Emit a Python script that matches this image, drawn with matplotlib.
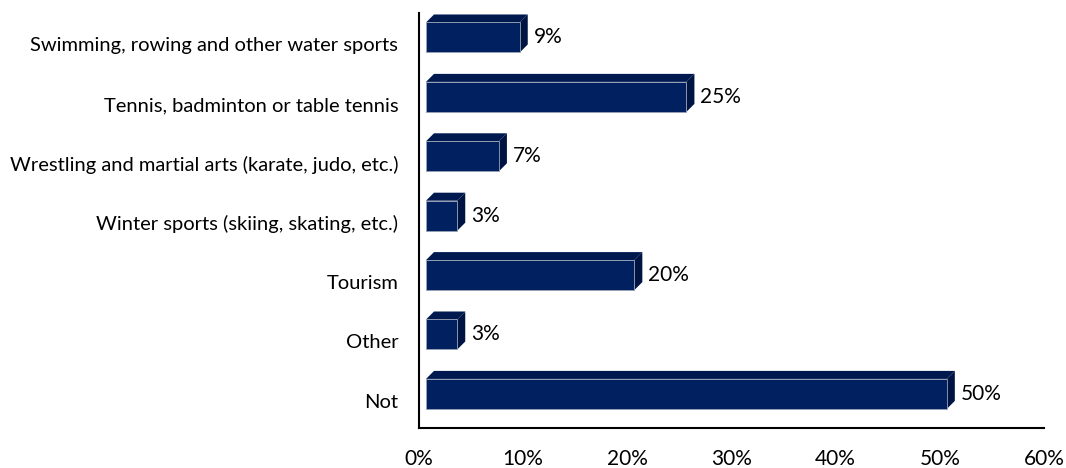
import matplotlib
matplotlib.use("Agg")
import matplotlib.pyplot as plt
from matplotlib.patches import Polygon, Rectangle
from matplotlib.transforms import ScaledTranslation

plt.rcParams['font.family'] = ['Lato', 'DejaVu Sans']

categories = [
    "Swimming, rowing and other water sports",
    "Tennis, badminton or table tennis",
    "Wrestling and martial arts (karate, judo, etc.)",
    "Winter sports (skiing, skating, etc.)",
    "Tourism",
    "Other",
    "Not",
]
values = [9, 25, 7, 3, 20, 3, 50]
x_ticks = [0, 10, 20, 30, 40, 50, 60]
x_tick_labels = ["0%", "10%", "20%", "30%", "40%", "50%", "60%"]

W, H, DPI = 1066, 468, 100
fig = plt.figure(figsize=(W / DPI, H / DPI), dpi=DPI)
left, right, top, bottom = 419, 1044, 13, 428
ax = fig.add_axes([left / W, 1 - bottom / H, (right - left) / W, (bottom - top) / H])

ax.set_xlim(0, 60)
ax.set_ylim(6.574, -0.412)

# pixel -> data unit conversions for the 3D bevel
px_per_x = (right - left) / 60.0
px_per_y = (bottom - top) / (6.574 + 0.412)
shift = 7 / px_per_x          # floor offset of the bar fronts
dx = 8 / px_per_x             # depth to the right
dy = 8 / px_per_y             # depth upward
bar_h = 0.505

front_c = "#002060"
top_c = "#001a50"
side_c = "#001443"

for i, v in enumerate(values):
    x0 = shift
    x1 = shift + v
    yt = i - bar_h / 2
    yb = i + bar_h / 2
    ax.add_patch(Polygon([(x0, yt), (x0 + dx, yt - dy), (x1 + dx, yt - dy), (x1, yt)],
                         closed=True, facecolor=top_c, edgecolor="none", zorder=2))
    ax.add_patch(Polygon([(x1, yt), (x1 + dx, yt - dy), (x1 + dx, yb - dy), (x1, yb)],
                         closed=True, facecolor=side_c, edgecolor="none", zorder=2))
    ax.add_patch(Rectangle((x0, yt), v, bar_h, facecolor=front_c,
                           edgecolor="#9aa3b5", linewidth=0.6, zorder=3))
    ax.text(x1 + dx + 6 / px_per_x, i, f"{v}%", ha="left", va="center",
            fontsize=15, color="black", zorder=4)

ax.set_yticks(range(len(categories)))
ax.set_yticklabels(categories, fontsize=14.5)
ax.set_xticks(x_ticks)
ax.set_xticklabels(x_tick_labels, fontsize=15)
ax.tick_params(axis="both", length=0)
ax.tick_params(axis="y", pad=15)
ax.tick_params(axis="x", pad=15)

for lbl in ax.get_yticklabels():
    lbl.set_transform(lbl.get_transform() + ScaledTranslation(0, -7 / DPI, fig.dpi_scale_trans))

for s in ["top", "right"]:
    ax.spines[s].set_visible(False)
for s in ["left", "bottom"]:
    ax.spines[s].set_linewidth(1.5)
    ax.spines[s].set_color("black")

fig.savefig("out.png", dpi=DPI)
